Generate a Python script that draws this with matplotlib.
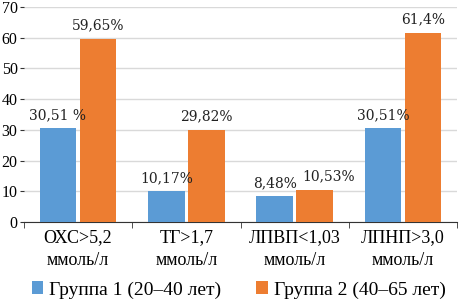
import numpy as np
import matplotlib.pyplot as plt

categories = ['ОХС>5,2\nммоль/л', 'ТГ>1,7\nммоль/л', 'ЛПВП<1,03\nммоль/л', 'ЛПНП>3,0\nммоль/л']
group1 = [30.51, 10.17, 8.48, 30.51]
group2 = [59.65, 29.82, 10.53, 61.4]
labels1 = ['30,51 %', '10,17%', '8,48%', '30,51%']
labels2 = ['59,65%', '29,82%', '10,53%', '61,4%']
names = ['Группа 1 (20–40 лет)', 'Группа 2 (40–65 лет)']

blue = '#5B9BD5'
orange = '#ED7D31'

plt.rcParams['font.family'] = 'Liberation Serif'

fig = plt.figure(figsize=(4.59, 3.01), dpi=100)
ax = fig.add_axes((0.052, 0.262, 0.944, 0.715))

x = np.arange(len(categories))
w = 0.34
b1 = ax.bar(x - w/2 - 0.015, group1, w, color=blue, label=names[0], zorder=3)
b2 = ax.bar(x + w/2 + 0.015, group2, w, color=orange, label=names[1], zorder=3)

# small horizontal nudges so the close labels do not collide
dx2 = [0, 0, 10, 0]
for r, t in zip(b1, labels1):
    ax.annotate(t, (r.get_x() + r.get_width()/2, r.get_height()), xytext=(0, 4),
                textcoords='offset points', ha='center', va='bottom',
                fontsize=10, family='DejaVu Serif', color='#222222')
for r, t, d in zip(b2, labels2, dx2):
    ax.annotate(t, (r.get_x() + r.get_width()/2, r.get_height()), xytext=(d, 5),
                textcoords='offset points', ha='center', va='bottom',
                fontsize=10, family='DejaVu Serif', color='#222222')

ax.set_ylim(0, 70)
ax.set_yticks(range(0, 71, 10))
ax.set_xlim(-0.5, 3.5)
ax.set_xticks(x)
ax.set_xticklabels(categories, fontsize=13, linespacing=1.45)
ax.tick_params(axis='x', length=0, pad=5)
ax.set_xticks(np.arange(-0.5, 4, 1), minor=True)
ax.tick_params(axis='x', which='minor', length=4, color='#333333')
ax.tick_params(axis='y', length=3, labelsize=11.5, pad=1.5, color='#333333')
ax.grid(axis='y', color='#d9d9d9', linewidth=1, zorder=0)
for s in ['top', 'right', 'left']:
    ax.spines[s].set_visible(False)
ax.spines['bottom'].set_color('#333333')

fig.legend(loc='lower center', bbox_to_anchor=(0.52, -0.05), ncol=2, frameon=False,
           fontsize=14, handlelength=0.6, handleheight=0.6, columnspacing=1.8, handletextpad=0.3)

fig.savefig('out.png', dpi=100)
